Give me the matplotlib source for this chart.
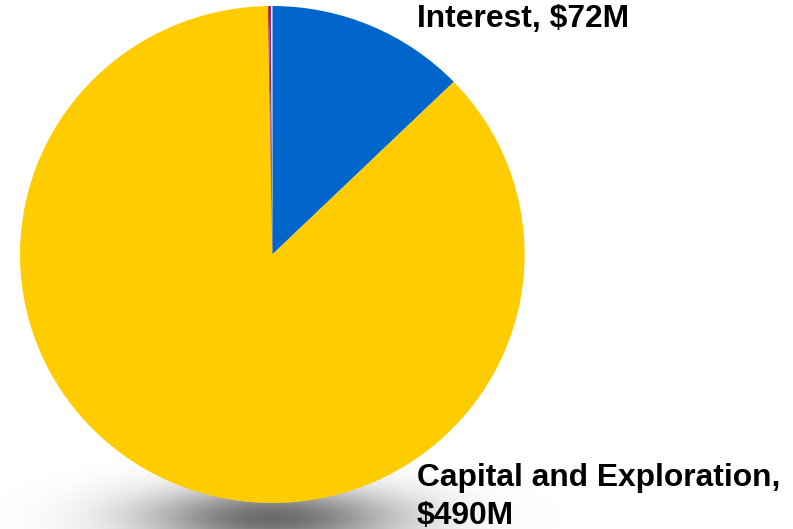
import numpy as np
import matplotlib
matplotlib.use("Agg")
import matplotlib.pyplot as plt

# Spending breakdown ($M), drawn clockwise from 12 o'clock
categories = ["Interest", "Capital and Exploration", "Other A", "Other B", "Other C"]
values = [72, 490, 0.4, 0.8, 0.4]
colors = ["#0066CC", "#FFCC00", "#C0392B", "#7B2C8F", "#EEEEF6"]
label_lines = {
    "Interest": ["Interest, $72M"],
    "Capital and Exploration": ["Capital and Exploration,", "$490M"],
}

W, H, DPI = 793, 529, 100
fig = plt.figure(figsize=(W / DPI, H / DPI), dpi=DPI)
fig.patch.set_facecolor("white")

# soft drop shadow under the pie
bg = fig.add_axes([0, 0, 1, 1], zorder=0)
bg.set_xlim(0, W)
bg.set_ylim(H, 0)
bg.axis("off")
xx, yy = np.meshgrid(np.arange(W) + 0.5, np.arange(H) + 0.5)
cx, cy, sx, sy = 272, 518, 92, 22
alpha = 0.58 * np.exp(-0.5 * (((xx - cx) / sx) ** 2 + ((yy - cy) / sy) ** 2))
rgba = np.zeros((H, W, 4))
rgba[..., 3] = alpha
bg.imshow(rgba, extent=(0, W, H, 0), interpolation="bilinear", aspect="auto")

# pie axes placed in pixel terms: x 20..524.6, y 6..503
left, right, top, bottom = 20.0, 524.6, 6.0, 503.0
ax = fig.add_axes([left / W, (H - bottom) / H, (right - left) / W, (bottom - top) / H], zorder=1)
ax.pie(values, colors=colors, startangle=90, counterclock=False,
       wedgeprops=dict(linewidth=0))
ax.set_aspect("auto")
ax.set_xlim(-1, 1)
ax.set_ylim(-1, 1)
ax.axis("off")

font = dict(family=["Liberation Sans", "DejaVu Sans"], fontweight="bold",
            fontsize=22.9, color="black")

def put_text(x_px, baseline_px, s):
    fig.text(x_px / W, 1 - baseline_px / H, s, ha="left", va="baseline", zorder=3, **font)

put_text(417, 26.5, label_lines["Interest"][0])
put_text(417, 486, label_lines["Capital and Exploration"][0])
put_text(417, 524, label_lines["Capital and Exploration"][1])

fig.savefig("out.png", dpi=DPI, facecolor="white")
